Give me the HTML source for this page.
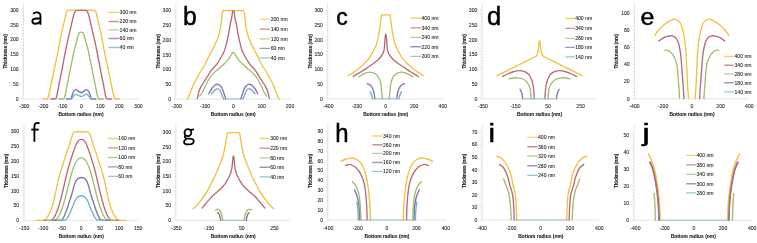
<!DOCTYPE html>
<html><head><meta charset="utf-8"><style>
html,body{margin:0;padding:0;background:#fff;}
text{font-family:"Liberation Sans",sans-serif;}
svg{display:block;filter:blur(0.55px);}
.ax{stroke:#dcdcdc;stroke-width:0.75;}
.tk{stroke:#d0d0d0;stroke-width:0.6;fill:none;}
.lgl{stroke-width:1.05;opacity:0.75;}
.tl{font-size:5.1px;fill:#222;stroke:#222;stroke-width:0.08px;}
.tt{font-size:4.8px;font-weight:bold;fill:#1a1a1a;stroke:#1a1a1a;stroke-width:0.12px;}
.tt2{font-size:4.95px;font-weight:bold;fill:#1a1a1a;stroke:#1a1a1a;stroke-width:0.1px;}
.let{fill:#000;stroke:#000;stroke-width:0.5px;}
.cv{fill:none;stroke-width:1.35;stroke-linejoin:round;stroke-linecap:round;}
</style></head><body>
<svg width="757" height="243" viewBox="0 0 757 243" font-family="Liberation Sans, sans-serif">
<line x1="23.5" y1="3" x2="23.5" y2="99" class="ax"/>
<line x1="23.5" y1="99" x2="138.5" y2="99" class="ax"/>
<path d="M21.3,99h2.2M22.1,96.03h1.4M22.1,93.05h1.4M22.1,90.08h1.4M22.1,87.11h1.4M21.3,84.13h2.2M22.1,81.16h1.4M22.1,78.19h1.4M22.1,75.21h1.4M22.1,72.24h1.4M21.3,69.27h2.2M22.1,66.29h1.4M22.1,63.32h1.4M22.1,60.35h1.4M22.1,57.37h1.4M21.3,54.4h2.2M22.1,51.43h1.4M22.1,48.45h1.4M22.1,45.48h1.4M22.1,42.51h1.4M21.3,39.53h2.2M22.1,36.56h1.4M22.1,33.59h1.4M22.1,30.61h1.4M22.1,27.64h1.4M21.3,24.67h2.2M22.1,21.69h1.4M22.1,18.72h1.4M22.1,15.75h1.4M22.1,12.77h1.4M21.3,9.8h2.2" class="tk"/>
<text x="18.7" y="100.83" class="tl" text-anchor="end">0</text>
<text x="18.7" y="85.96" class="tl" text-anchor="end">50</text>
<text x="18.7" y="71.1" class="tl" text-anchor="end">100</text>
<text x="18.7" y="56.23" class="tl" text-anchor="end">150</text>
<text x="18.7" y="41.36" class="tl" text-anchor="end">200</text>
<text x="18.7" y="26.5" class="tl" text-anchor="end">250</text>
<text x="18.7" y="11.63" class="tl" text-anchor="end">300</text>
<text x="24.3" y="108" class="tl" text-anchor="middle">-300</text>
<text x="43.3" y="108" class="tl" text-anchor="middle">-200</text>
<text x="62.3" y="108" class="tl" text-anchor="middle">-100</text>
<text x="81.3" y="108" class="tl" text-anchor="middle">0</text>
<text x="100.3" y="108" class="tl" text-anchor="middle">100</text>
<text x="119.3" y="108" class="tl" text-anchor="middle">200</text>
<text x="138.3" y="108" class="tl" text-anchor="middle">300</text>
<text transform="translate(7.4,51.4) rotate(-90)" class="tt" text-anchor="middle" textLength="34.2" lengthAdjust="spacingAndGlyphs">Thickness (nm)</text>
<text x="81" y="116" class="tt2" text-anchor="middle" textLength="45.1" lengthAdjust="spacingAndGlyphs">Bottom radius (nm)</text>
<g fill="none" stroke="#000" stroke-width="1.9"><path d="M33.1,13.7 C34.2,12.75 35.6,12.35 36.8,12.35 C39.3,12.35 40.45,13.6 40.45,16 L40.45,24.7"/><path d="M40.45,18.5 L36.6,18.5 C33.8,18.5 32.35,19.8 32.35,21.3 C32.35,22.9 33.5,23.75 35.2,23.75 C37.3,23.75 39.2,22.8 40.45,21.5"/></g>
<line x1="109" y1="12.4" x2="118.5" y2="12.4" stroke="#EEC43E" class="cv lgl"/>
<text x="119.6" y="14.3" class="tl">300 nm</text>
<line x1="109" y1="21.5" x2="118.5" y2="21.5" stroke="#B86A78" class="cv lgl"/>
<text x="119.6" y="23.4" class="tl">220 nm</text>
<line x1="109" y1="29.9" x2="118.5" y2="29.9" stroke="#A2BC72" class="cv lgl"/>
<text x="119.6" y="31.8" class="tl">140 nm</text>
<line x1="109" y1="38.5" x2="118.5" y2="38.5" stroke="#8672A8" class="cv lgl"/>
<text x="119.6" y="40.4" class="tl">60 nm</text>
<line x1="109" y1="47.5" x2="118.5" y2="47.5" stroke="#6CB4CA" class="cv lgl"/>
<text x="119.6" y="49.4" class="tl">40 nm</text>
<path d="M43.2,99 C43.78,99 46.12,99 46.7,99 C46.87,98.93 47.4,99.1 47.7,98.6 C48,98.1 48.13,97.43 48.5,96 C48.87,94.57 49.28,92.83 49.9,90 C50.52,87.17 51.4,82.83 52.2,79 C53,75.17 53.85,71 54.7,67 C55.55,63 56.45,59.17 57.3,55 C58.15,50.83 58.97,46.22 59.8,42 C60.63,37.78 61.4,33.82 62.3,29.7 C63.2,25.58 64.52,20.25 65.2,17.3 C65.88,14.35 66.03,13.12 66.4,12 C66.77,10.88 66.98,10.9 67.4,10.6 C67.82,10.3 66.6,10.27 68.9,10.2 C71.2,10.13 77.1,10.2 81.2,10.2 C85.3,10.2 91.2,10.13 93.5,10.2 C95.8,10.27 94.58,10.3 95,10.6 C95.42,10.9 95.63,10.88 96,12 C96.37,13.12 96.52,14.35 97.2,17.3 C97.88,20.25 99.2,25.58 100.1,29.7 C101,33.82 101.77,37.78 102.6,42 C103.43,46.22 104.25,50.83 105.1,55 C105.95,59.17 106.85,63 107.7,67 C108.55,71 109.4,75.17 110.2,79 C111,82.83 111.88,87.17 112.5,90 C113.12,92.83 113.53,94.57 113.9,96 C114.27,97.43 114.4,98.1 114.7,98.6 C115,99.1 115.53,98.93 115.7,99 C116.28,99 118.62,99 119.2,99" stroke="#EEC43E" class="cv"/>
<path d="M51,99 C51.67,99 54.33,99 55,99 C55.18,98.87 55.77,98.87 56.1,98.2 C56.43,97.53 56.5,97.37 57,95 C57.5,92.63 58.22,88.5 59.1,84 C59.98,79.5 61.2,73.67 62.3,68 C63.4,62.33 64.58,55.5 65.7,50 C66.82,44.5 68.05,39.22 69,35 C69.95,30.78 70.72,27.62 71.4,24.7 C72.08,21.78 72.57,19.53 73.1,17.5 C73.63,15.47 74.2,13.58 74.6,12.5 C75,11.42 75.13,11.35 75.5,11 C75.87,10.65 75.85,10.5 76.8,10.4 C77.75,10.3 79.73,10.4 81.2,10.4 C82.67,10.4 84.65,10.3 85.6,10.4 C86.55,10.5 86.53,10.65 86.9,11 C87.27,11.35 87.4,11.42 87.8,12.5 C88.2,13.58 88.77,15.47 89.3,17.5 C89.83,19.53 90.32,21.78 91,24.7 C91.68,27.62 92.45,30.78 93.4,35 C94.35,39.22 95.58,44.5 96.7,50 C97.82,55.5 99,62.33 100.1,68 C101.2,73.67 102.42,79.5 103.3,84 C104.18,88.5 104.9,92.63 105.4,95 C105.9,97.37 105.97,97.53 106.3,98.2 C106.63,98.87 107.22,98.87 107.4,99 C108.07,99 110.73,99 111.4,99" stroke="#B86A78" class="cv"/>
<path d="M59,99 C59.67,99 62.33,99 63,99 C63.17,98.93 63.7,99.02 64,98.6 C64.3,98.18 64.43,97.93 64.8,96.5 C65.17,95.07 65.63,92.75 66.2,90 C66.77,87.25 67.53,83.33 68.2,80 C68.87,76.67 69.53,73.33 70.2,70 C70.87,66.67 71.52,63.33 72.2,60 C72.88,56.67 73.7,52.58 74.3,50 C74.9,47.42 75.37,46.08 75.8,44.5 C76.23,42.92 76.58,41.75 76.9,40.5 C77.22,39.25 77.43,38 77.7,37 C77.97,36 78.17,35.23 78.5,34.5 C78.83,33.77 79.25,33 79.7,32.6 C80.15,32.2 80.7,32.1 81.2,32.1 C81.7,32.1 82.25,32.2 82.7,32.6 C83.15,33 83.57,33.77 83.9,34.5 C84.23,35.23 84.43,36 84.7,37 C84.97,38 85.18,39.25 85.5,40.5 C85.82,41.75 86.17,42.92 86.6,44.5 C87.03,46.08 87.5,47.42 88.1,50 C88.7,52.58 89.52,56.67 90.2,60 C90.88,63.33 91.53,66.67 92.2,70 C92.87,73.33 93.53,76.67 94.2,80 C94.87,83.33 95.63,87.25 96.2,90 C96.77,92.75 97.23,95.07 97.6,96.5 C97.97,97.93 98.1,98.18 98.4,98.6 C98.7,99.02 99.23,98.93 99.4,99 C100.07,99 102.73,99 103.4,99" stroke="#A2BC72" class="cv"/>
<path d="M66.6,99 C67.27,99 69.93,99 70.6,99 C70.73,98.8 71.1,98.55 71.4,97.8 C71.7,97.05 71.97,95.6 72.4,94.5 C72.83,93.4 73.4,92 74,91.2 C74.6,90.4 75.22,89.68 76,89.7 C76.78,89.72 77.83,90.8 78.7,91.3 C79.57,91.8 80.37,92.7 81.2,92.7 C82.03,92.7 82.83,91.8 83.7,91.3 C84.57,90.8 85.62,89.72 86.4,89.7 C87.18,89.68 87.8,90.4 88.4,91.2 C89,92 89.57,93.4 90,94.5 C90.43,95.6 90.7,97.05 91,97.8 C91.3,98.55 91.67,98.8 91.8,99 C92.47,99 95.13,99 95.8,99" stroke="#8672A8" class="cv"/>
<path d="M67.2,99 C67.87,99 70.53,99 71.2,99 C71.32,98.95 71.62,99 71.9,98.7 C72.18,98.4 72.48,97.78 72.9,97.2 C73.32,96.62 73.85,95.68 74.4,95.2 C74.95,94.72 75.48,94.25 76.2,94.3 C76.92,94.35 77.87,95.12 78.7,95.5 C79.53,95.88 80.37,96.6 81.2,96.6 C82.03,96.6 82.87,95.88 83.7,95.5 C84.53,95.12 85.48,94.35 86.2,94.3 C86.92,94.25 87.45,94.72 88,95.2 C88.55,95.68 89.08,96.62 89.5,97.2 C89.92,97.78 90.22,98.4 90.5,98.7 C90.78,99 91.08,98.95 91.2,99 C91.87,99 94.53,99 95.2,99" stroke="#6CB4CA" class="cv"/>
<line x1="175.9" y1="3" x2="175.9" y2="99" class="ax"/>
<line x1="175.9" y1="99" x2="290.5" y2="99" class="ax"/>
<path d="M173.7,99h2.2M174.5,96.05h1.4M174.5,93.09h1.4M174.5,90.14h1.4M174.5,87.19h1.4M173.7,84.23h2.2M174.5,81.28h1.4M174.5,78.33h1.4M174.5,75.37h1.4M174.5,72.42h1.4M173.7,69.47h2.2M174.5,66.51h1.4M174.5,63.56h1.4M174.5,60.61h1.4M174.5,57.65h1.4M173.7,54.7h2.2M174.5,51.75h1.4M174.5,48.79h1.4M174.5,45.84h1.4M174.5,42.89h1.4M173.7,39.93h2.2M174.5,36.98h1.4M174.5,34.03h1.4M174.5,31.07h1.4M174.5,28.12h1.4M173.7,25.17h2.2M174.5,22.21h1.4M174.5,19.26h1.4M174.5,16.31h1.4M174.5,13.35h1.4M173.7,10.4h2.2" class="tk"/>
<text x="171.1" y="100.83" class="tl" text-anchor="end">0</text>
<text x="171.1" y="86.06" class="tl" text-anchor="end">50</text>
<text x="171.1" y="71.3" class="tl" text-anchor="end">100</text>
<text x="171.1" y="56.53" class="tl" text-anchor="end">150</text>
<text x="171.1" y="41.76" class="tl" text-anchor="end">200</text>
<text x="171.1" y="27" class="tl" text-anchor="end">250</text>
<text x="171.1" y="12.23" class="tl" text-anchor="end">300</text>
<text x="176.8" y="108" class="tl" text-anchor="middle">-200</text>
<text x="205.1" y="108" class="tl" text-anchor="middle">-100</text>
<text x="233.4" y="108" class="tl" text-anchor="middle">0</text>
<text x="261.7" y="108" class="tl" text-anchor="middle">100</text>
<text x="290" y="108" class="tl" text-anchor="middle">200</text>
<text transform="translate(159.8,51.4) rotate(-90)" class="tt" text-anchor="middle" textLength="34.2" lengthAdjust="spacingAndGlyphs">Thickness (nm)</text>
<text x="233.2" y="116" class="tt2" text-anchor="middle" textLength="45.1" lengthAdjust="spacingAndGlyphs">Bottom radius (nm)</text>
<text transform="translate(182.99,24.74) scale(0.961,1)" font-size="25.71" class="let">b</text>
<line x1="260.1" y1="19.3" x2="269.5" y2="19.3" stroke="#EEC43E" class="cv lgl"/>
<text x="270.7" y="21.2" class="tl">200 nm</text>
<line x1="260.1" y1="29.1" x2="269.5" y2="29.1" stroke="#B86A78" class="cv lgl"/>
<text x="270.7" y="31" class="tl">140 nm</text>
<line x1="260.1" y1="38.8" x2="269.5" y2="38.8" stroke="#A2BC72" class="cv lgl"/>
<text x="270.7" y="40.7" class="tl">120 nm</text>
<line x1="260.1" y1="48.4" x2="269.5" y2="48.4" stroke="#8672A8" class="cv lgl"/>
<text x="270.7" y="50.3" class="tl">60 nm</text>
<line x1="260.1" y1="57.8" x2="269.5" y2="57.8" stroke="#6CB4CA" class="cv lgl"/>
<text x="270.7" y="59.7" class="tl">40 nm</text>
<path d="M187.3,99 C187.47,98.87 187.97,98.78 188.3,98.2 C188.63,97.62 188.8,96.87 189.3,95.5 C189.8,94.13 190.55,91.92 191.3,90 C192.05,88.08 192.8,86.08 193.8,84 C194.8,81.92 196.22,79.5 197.3,77.5 C198.38,75.5 199.05,74.13 200.3,72 C201.55,69.87 203.35,67.37 204.8,64.7 C206.25,62.03 207.75,58.45 209,56 C210.25,53.55 211.27,51.98 212.3,50 C213.33,48.02 214.22,46.27 215.2,44.1 C216.18,41.93 217.35,39.57 218.2,37 C219.05,34.43 219.77,31.45 220.3,28.7 C220.83,25.95 221.07,23.12 221.4,20.5 C221.73,17.88 222.05,14.5 222.3,13 C222.55,11.5 222.6,11.88 222.9,11.5 C223.2,11.12 222.37,10.83 224.1,10.7 C225.83,10.57 230.23,10.7 233.3,10.7 C236.37,10.7 240.77,10.57 242.5,10.7 C244.23,10.83 243.4,11.12 243.7,11.5 C244,11.88 244.05,11.5 244.3,13 C244.55,14.5 244.87,17.88 245.2,20.5 C245.53,23.12 245.77,25.95 246.3,28.7 C246.83,31.45 247.55,34.43 248.4,37 C249.25,39.57 250.42,41.93 251.4,44.1 C252.38,46.27 253.27,48.02 254.3,50 C255.33,51.98 256.35,53.55 257.6,56 C258.85,58.45 260.35,62.03 261.8,64.7 C263.25,67.37 265.05,69.87 266.3,72 C267.55,74.13 268.22,75.5 269.3,77.5 C270.38,79.5 271.8,81.92 272.8,84 C273.8,86.08 274.55,88.08 275.3,90 C276.05,91.92 276.8,94.13 277.3,95.5 C277.8,96.87 277.97,97.62 278.3,98.2 C278.63,98.78 279.13,98.87 279.3,99" stroke="#EEC43E" class="cv"/>
<path d="M197.1,98.5 C197.2,98.22 197.42,97.88 197.7,96.8 C197.98,95.72 198.27,93.65 198.8,92 C199.33,90.35 200.15,88.4 200.9,86.9 C201.65,85.4 202.27,84.65 203.3,83 C204.33,81.35 205.77,79.12 207.1,77 C208.43,74.88 209.77,72.35 211.3,70.3 C212.83,68.25 215.1,66.15 216.3,64.7 C217.5,63.25 217.2,63.8 218.5,61.6 C219.8,59.4 222.63,55.1 224.1,51.5 C225.57,47.9 226.52,43.1 227.3,40 C228.08,36.9 228.32,35.47 228.8,32.9 C229.28,30.33 229.68,27.35 230.2,24.6 C230.72,21.85 231.52,18.5 231.9,16.4 C232.28,14.3 232.27,12.95 232.5,12 C232.73,11.05 233.03,10.7 233.3,10.7 C233.57,10.7 233.87,11.05 234.1,12 C234.33,12.95 234.32,14.3 234.7,16.4 C235.08,18.5 235.88,21.85 236.4,24.6 C236.92,27.35 237.32,30.33 237.8,32.9 C238.28,35.47 238.52,36.9 239.3,40 C240.08,43.1 241.03,47.9 242.5,51.5 C243.97,55.1 246.8,59.4 248.1,61.6 C249.4,63.8 249.1,63.25 250.3,64.7 C251.5,66.15 253.77,68.25 255.3,70.3 C256.83,72.35 258.17,74.88 259.5,77 C260.83,79.12 262.27,81.35 263.3,83 C264.33,84.65 264.95,85.4 265.7,86.9 C266.45,88.4 267.27,90.35 267.8,92 C268.33,93.65 268.62,95.72 268.9,96.8 C269.18,97.88 269.4,98.22 269.5,98.5" stroke="#B86A78" class="cv"/>
<path d="M199.8,96 C200.13,95.58 201.13,94.58 201.8,93.5 C202.47,92.42 203.05,91.08 203.8,89.5 C204.55,87.92 205.38,85.83 206.3,84 C207.22,82.17 208.22,80.18 209.3,78.5 C210.38,76.82 211.25,75.5 212.8,73.9 C214.35,72.3 216.68,70.58 218.6,68.9 C220.52,67.22 222.62,65.48 224.3,63.8 C225.98,62.12 227.5,60.37 228.7,58.8 C229.9,57.23 230.73,55.48 231.5,54.4 C232.27,53.32 232.7,52.3 233.3,52.3 C233.9,52.3 234.33,53.32 235.1,54.4 C235.87,55.48 236.7,57.23 237.9,58.8 C239.1,60.37 240.62,62.12 242.3,63.8 C243.98,65.48 246.08,67.22 248,68.9 C249.92,70.58 252.25,72.3 253.8,73.9 C255.35,75.5 256.22,76.82 257.3,78.5 C258.38,80.18 259.38,82.17 260.3,84 C261.22,85.83 262.05,87.92 262.8,89.5 C263.55,91.08 264.13,92.42 264.8,93.5 C265.47,94.58 266.47,95.58 266.8,96" stroke="#A2BC72" class="cv"/>
<path d="M226.05,99 C225.84,98.5 225.34,97.5 224.8,96 C224.26,94.5 223.47,91.63 222.8,90 C222.13,88.37 221.63,87.15 220.8,86.2 C219.97,85.25 218.8,84.47 217.8,84.3 C216.8,84.13 215.8,84.5 214.8,85.2 C213.8,85.9 212.8,87.07 211.8,88.5 C210.8,89.93 209.3,92.92 208.8,93.8" stroke="#8672A8" class="cv"/>
<path d="M240.55,99 C240.76,98.5 241.26,97.5 241.8,96 C242.34,94.5 243.13,91.63 243.8,90 C244.47,88.37 244.97,87.15 245.8,86.2 C246.63,85.25 247.8,84.47 248.8,84.3 C249.8,84.13 250.8,84.5 251.8,85.2 C252.8,85.9 253.8,87.07 254.8,88.5 C255.8,89.93 257.3,92.92 257.8,93.8" stroke="#8672A8" class="cv"/>
<path d="M223.8,99 C223.58,98.58 223,97.67 222.5,96.5 C222,95.33 221.33,93.15 220.8,92 C220.27,90.85 219.78,90.13 219.3,89.6 C218.82,89.07 218.48,88.83 217.9,88.8 C217.32,88.77 216.53,88.95 215.8,89.4 C215.07,89.85 214.2,90.77 213.5,91.5 C212.8,92.23 211.92,93.42 211.6,93.8" stroke="#6CB4CA" class="cv"/>
<path d="M242.8,99 C243.02,98.58 243.6,97.67 244.1,96.5 C244.6,95.33 245.27,93.15 245.8,92 C246.33,90.85 246.82,90.13 247.3,89.6 C247.78,89.07 248.12,88.83 248.7,88.8 C249.28,88.77 250.07,88.95 250.8,89.4 C251.53,89.85 252.4,90.77 253.1,91.5 C253.8,92.23 254.68,93.42 255,93.8" stroke="#6CB4CA" class="cv"/>
<line x1="223.8" y1="99" x2="242.8" y2="99" stroke="#8DBAC6" stroke-width="0.95" fill="none"/>
<line x1="327.7" y1="3" x2="327.7" y2="98.8" class="ax"/>
<line x1="327.7" y1="98.8" x2="443.7" y2="98.8" class="ax"/>
<path d="M325.5,98.8h2.2M326.3,95.85h1.4M326.3,92.91h1.4M326.3,89.96h1.4M326.3,87.01h1.4M325.5,84.07h2.2M326.3,81.12h1.4M326.3,78.17h1.4M326.3,75.23h1.4M326.3,72.28h1.4M325.5,69.33h2.2M326.3,66.39h1.4M326.3,63.44h1.4M326.3,60.49h1.4M326.3,57.55h1.4M325.5,54.6h2.2M326.3,51.65h1.4M326.3,48.71h1.4M326.3,45.76h1.4M326.3,42.81h1.4M325.5,39.87h2.2M326.3,36.92h1.4M326.3,33.97h1.4M326.3,31.03h1.4M326.3,28.08h1.4M325.5,25.13h2.2M326.3,22.19h1.4M326.3,19.24h1.4M326.3,16.29h1.4M326.3,13.35h1.4M325.5,10.4h2.2" class="tk"/>
<text x="322.9" y="100.63" class="tl" text-anchor="end">0</text>
<text x="322.9" y="85.9" class="tl" text-anchor="end">50</text>
<text x="322.9" y="71.16" class="tl" text-anchor="end">100</text>
<text x="322.9" y="56.43" class="tl" text-anchor="end">150</text>
<text x="322.9" y="41.7" class="tl" text-anchor="end">200</text>
<text x="322.9" y="26.96" class="tl" text-anchor="end">250</text>
<text x="322.9" y="12.23" class="tl" text-anchor="end">300</text>
<text x="328.4" y="108" class="tl" text-anchor="middle">-400</text>
<text x="357" y="108" class="tl" text-anchor="middle">-200</text>
<text x="385.6" y="108" class="tl" text-anchor="middle">0</text>
<text x="414.2" y="108" class="tl" text-anchor="middle">200</text>
<text x="442.8" y="108" class="tl" text-anchor="middle">400</text>
<text transform="translate(311.6,51.4) rotate(-90)" class="tt" text-anchor="middle" textLength="34.2" lengthAdjust="spacingAndGlyphs">Thickness (nm)</text>
<text x="385.7" y="116" class="tt2" text-anchor="middle" textLength="45.1" lengthAdjust="spacingAndGlyphs">Bottom radius (nm)</text>
<text transform="translate(336.34,24.86) scale(0.974,1)" font-size="23.54" class="let">c</text>
<line x1="410.9" y1="18" x2="420.7" y2="18" stroke="#EEC43E" class="cv lgl"/>
<text x="421.5" y="19.9" class="tl">400 nm</text>
<line x1="410.9" y1="27.9" x2="420.7" y2="27.9" stroke="#B86A78" class="cv lgl"/>
<text x="421.5" y="29.8" class="tl">340 nm</text>
<line x1="410.9" y1="37.3" x2="420.7" y2="37.3" stroke="#A2BC72" class="cv lgl"/>
<text x="421.5" y="39.2" class="tl">240 nm</text>
<line x1="410.9" y1="46.7" x2="420.7" y2="46.7" stroke="#8672A8" class="cv lgl"/>
<text x="421.5" y="48.6" class="tl">220 nm</text>
<line x1="410.9" y1="56.3" x2="420.7" y2="56.3" stroke="#6CB4CA" class="cv lgl"/>
<text x="421.5" y="58.2" class="tl">200 nm</text>
<path d="M348.3,75.6 C348.97,75.18 350.97,73.95 352.3,73.1 C353.63,72.25 354.93,71.52 356.3,70.5 C357.67,69.48 359.08,68.25 360.5,67 C361.92,65.75 363.42,64.38 364.8,63 C366.18,61.62 367.63,60.2 368.8,58.7 C369.97,57.2 370.88,55.62 371.8,54 C372.72,52.38 373.55,50.5 374.3,49 C375.05,47.5 375.68,46.83 376.3,45 C376.92,43.17 377.45,40.55 378,38 C378.55,35.45 379.15,32.45 379.6,29.7 C380.05,26.95 380.4,23.82 380.7,21.5 C381,19.18 381.13,16.9 381.4,15.8 C381.67,14.7 381.57,15.05 382.3,14.9 C383.03,14.75 384.63,14.9 385.8,14.9 C386.97,14.9 388.57,14.75 389.3,14.9 C390.03,15.05 389.93,14.7 390.2,15.8 C390.47,16.9 390.6,19.18 390.9,21.5 C391.2,23.82 391.55,26.95 392,29.7 C392.45,32.45 393.05,35.45 393.6,38 C394.15,40.55 394.68,43.17 395.3,45 C395.92,46.83 396.55,47.5 397.3,49 C398.05,50.5 398.88,52.38 399.8,54 C400.72,55.62 401.63,57.2 402.8,58.7 C403.97,60.2 405.42,61.62 406.8,63 C408.18,64.38 409.68,65.75 411.1,67 C412.52,68.25 413.93,69.48 415.3,70.5 C416.67,71.52 417.97,72.25 419.3,73.1 C420.63,73.95 422.63,75.18 423.3,75.6" stroke="#EEC43E" class="cv"/>
<path d="M353.4,76.7 C353.58,76.52 353.27,76.38 354.5,75.6 C355.73,74.82 358.75,73.27 360.8,72 C362.85,70.73 364.8,69.33 366.8,68 C368.8,66.67 371.08,65.2 372.8,64 C374.52,62.8 375.93,61.8 377.1,60.8 C378.27,59.8 378.95,59.03 379.8,58 C380.65,56.97 381.58,55.6 382.2,54.6 C382.82,53.6 383.15,53.02 383.5,52 C383.85,50.98 384.08,50.17 384.3,48.5 C384.52,46.83 384.63,44.08 384.8,42 C384.97,39.92 385.13,37.35 385.3,36 C385.47,34.65 385.63,33.9 385.8,33.9 C385.97,33.9 386.13,34.65 386.3,36 C386.47,37.35 386.63,39.92 386.8,42 C386.97,44.08 387.08,46.83 387.3,48.5 C387.52,50.17 387.75,50.98 388.1,52 C388.45,53.02 388.78,53.6 389.4,54.6 C390.02,55.6 390.95,56.97 391.8,58 C392.65,59.03 393.33,59.8 394.5,60.8 C395.67,61.8 397.08,62.8 398.8,64 C400.52,65.2 402.8,66.67 404.8,68 C406.8,69.33 408.75,70.73 410.8,72 C412.85,73.27 415.87,74.82 417.1,75.6 C418.33,76.38 418.02,76.52 418.2,76.7" stroke="#B86A78" class="cv"/>
<path d="M382.7,98.8 C382.63,98.5 382.48,98.3 382.3,97 C382.12,95.7 381.83,93.17 381.6,91 C381.37,88.83 381.23,85.92 380.9,84 C380.57,82.08 380.18,80.9 379.6,79.5 C379.02,78.1 378.2,76.63 377.4,75.6 C376.6,74.57 375.97,73.88 374.8,73.3 C373.63,72.72 371.82,72.18 370.4,72.1 C368.98,72.02 367.65,72.38 366.3,72.8 C364.95,73.22 363.55,73.9 362.3,74.6 C361.05,75.3 359.38,76.6 358.8,77" stroke="#A2BC72" class="cv"/>
<path d="M388.9,98.8 C388.97,98.5 389.12,98.3 389.3,97 C389.48,95.7 389.77,93.17 390,91 C390.23,88.83 390.37,85.92 390.7,84 C391.03,82.08 391.42,80.9 392,79.5 C392.58,78.1 393.4,76.63 394.2,75.6 C395,74.57 395.63,73.88 396.8,73.3 C397.97,72.72 399.78,72.18 401.2,72.1 C402.62,72.02 403.95,72.38 405.3,72.8 C406.65,73.22 408.05,73.9 409.3,74.6 C410.55,75.3 412.22,76.6 412.8,77" stroke="#A2BC72" class="cv"/>
<path d="M374.9,98.8 C374.87,98.58 374.82,98.3 374.7,97.5 C374.58,96.7 374.4,95.08 374.2,94 C374,92.92 373.82,92 373.5,91 C373.18,90 372.75,88.9 372.3,88 C371.85,87.1 371.35,86.22 370.8,85.6 C370.25,84.98 369.62,84.62 369,84.3 C368.38,83.98 367.42,83.8 367.1,83.7" stroke="#8672A8" class="cv"/>
<path d="M396.7,98.8 C396.73,98.58 396.78,98.3 396.9,97.5 C397.02,96.7 397.2,95.08 397.4,94 C397.6,92.92 397.78,92 398.1,91 C398.42,90 398.85,88.9 399.3,88 C399.75,87.1 400.25,86.22 400.8,85.6 C401.35,84.98 401.98,84.62 402.6,84.3 C403.22,83.98 404.18,83.8 404.5,83.7" stroke="#8672A8" class="cv"/>
<path d="M372.5,98.8 C372.45,98.5 372.38,97.72 372.2,97 C372.02,96.28 371.73,95.38 371.4,94.5 C371.07,93.62 370.4,92.17 370.2,91.7" stroke="#6CB4CA" class="cv"/>
<path d="M399.1,98.8 C399.15,98.5 399.22,97.72 399.4,97 C399.58,96.28 399.87,95.38 400.2,94.5 C400.53,93.62 401.2,92.17 401.4,91.7" stroke="#6CB4CA" class="cv"/>
<line x1="372.5" y1="98.8" x2="399.1" y2="98.8" stroke="#8DBAC6" stroke-width="0.95" fill="none"/>
<line x1="482.1" y1="3" x2="482.1" y2="98.8" class="ax"/>
<line x1="482.1" y1="98.8" x2="597" y2="98.8" class="ax"/>
<path d="M479.9,98.8h2.2M480.7,95.85h1.4M480.7,92.91h1.4M480.7,89.96h1.4M480.7,87.01h1.4M479.9,84.07h2.2M480.7,81.12h1.4M480.7,78.17h1.4M480.7,75.23h1.4M480.7,72.28h1.4M479.9,69.33h2.2M480.7,66.39h1.4M480.7,63.44h1.4M480.7,60.49h1.4M480.7,57.55h1.4M479.9,54.6h2.2M480.7,51.65h1.4M480.7,48.71h1.4M480.7,45.76h1.4M480.7,42.81h1.4M479.9,39.87h2.2M480.7,36.92h1.4M480.7,33.97h1.4M480.7,31.03h1.4M480.7,28.08h1.4M479.9,25.13h2.2M480.7,22.19h1.4M480.7,19.24h1.4M480.7,16.29h1.4M480.7,13.35h1.4M479.9,10.4h2.2" class="tk"/>
<text x="477.3" y="100.63" class="tl" text-anchor="end">0</text>
<text x="477.3" y="85.9" class="tl" text-anchor="end">50</text>
<text x="477.3" y="71.16" class="tl" text-anchor="end">100</text>
<text x="477.3" y="56.43" class="tl" text-anchor="end">150</text>
<text x="477.3" y="41.7" class="tl" text-anchor="end">200</text>
<text x="477.3" y="26.96" class="tl" text-anchor="end">250</text>
<text x="477.3" y="12.23" class="tl" text-anchor="end">300</text>
<text x="482.8" y="108" class="tl" text-anchor="middle">-350</text>
<text x="515.4" y="108" class="tl" text-anchor="middle">-150</text>
<text x="548" y="108" class="tl" text-anchor="middle">50</text>
<text x="580.6" y="108" class="tl" text-anchor="middle">250</text>
<text transform="translate(466,51.4) rotate(-90)" class="tt" text-anchor="middle" textLength="34.2" lengthAdjust="spacingAndGlyphs">Thickness (nm)</text>
<text x="539.55" y="116" class="tt2" text-anchor="middle" textLength="45.1" lengthAdjust="spacingAndGlyphs">Bottom radius (nm)</text>
<text transform="translate(487.03,24.74) scale(0.994,1)" font-size="25.71" class="let">d</text>
<line x1="565.8" y1="18.5" x2="574.4" y2="18.5" stroke="#EEC43E" class="cv lgl"/>
<text x="575.2" y="20.4" class="tl">400 nm</text>
<line x1="565.8" y1="28.4" x2="574.4" y2="28.4" stroke="#B86A78" class="cv lgl"/>
<text x="575.2" y="30.3" class="tl">340 nm</text>
<line x1="565.8" y1="38.3" x2="574.4" y2="38.3" stroke="#A2BC72" class="cv lgl"/>
<text x="575.2" y="40.2" class="tl">280 nm</text>
<line x1="565.8" y1="47.4" x2="574.4" y2="47.4" stroke="#8672A8" class="cv lgl"/>
<text x="575.2" y="49.3" class="tl">180 nm</text>
<line x1="565.8" y1="56.8" x2="574.4" y2="56.8" stroke="#6CB4CA" class="cv lgl"/>
<text x="575.2" y="58.7" class="tl">140 nm</text>
<path d="M497.1,75.7 C498.35,75.05 502.02,73.12 504.6,71.8 C507.18,70.48 510.1,69.03 512.6,67.8 C515.1,66.57 517.35,65.5 519.6,64.4 C521.85,63.3 523.93,62.27 526.1,61.2 C528.27,60.13 531.1,58.73 532.6,58 C534.1,57.27 534.4,57.27 535.1,56.8 C535.8,56.33 536.32,56 536.8,55.2 C537.28,54.4 537.7,53.28 538,52 C538.3,50.72 538.42,49.08 538.6,47.5 C538.78,45.92 538.93,43.63 539.1,42.5 C539.27,41.37 539.43,40.7 539.6,40.7 C539.77,40.7 539.93,41.37 540.1,42.5 C540.27,43.63 540.42,45.92 540.6,47.5 C540.78,49.08 540.9,50.72 541.2,52 C541.5,53.28 541.92,54.4 542.4,55.2 C542.88,56 543.4,56.33 544.1,56.8 C544.8,57.27 545.1,57.27 546.6,58 C548.1,58.73 550.93,60.13 553.1,61.2 C555.27,62.27 557.35,63.3 559.6,64.4 C561.85,65.5 564.1,66.57 566.6,67.8 C569.1,69.03 572.02,70.48 574.6,71.8 C577.18,73.12 580.85,75.05 582.1,75.7" stroke="#EEC43E" class="cv"/>
<path d="M534.3,98.8 C534.27,98.33 534.18,97.3 534.1,96 C534.02,94.7 533.95,92.67 533.8,91 C533.65,89.33 533.47,87.58 533.2,86 C532.93,84.42 532.63,82.92 532.2,81.5 C531.77,80.08 531.2,78.7 530.6,77.5 C530,76.3 529.35,75.17 528.6,74.3 C527.85,73.43 527.02,72.83 526.1,72.3 C525.18,71.77 524.07,71.38 523.1,71.1 C522.13,70.82 521.38,70.63 520.3,70.6 C519.22,70.57 517.88,70.67 516.6,70.9 C515.32,71.13 514.1,71.48 512.6,72 C511.1,72.52 509.3,73.25 507.6,74 C505.9,74.75 503.27,76.08 502.4,76.5" stroke="#B86A78" class="cv"/>
<path d="M544.9,98.8 C544.93,98.33 545.02,97.3 545.1,96 C545.18,94.7 545.25,92.67 545.4,91 C545.55,89.33 545.73,87.58 546,86 C546.27,84.42 546.57,82.92 547,81.5 C547.43,80.08 548,78.7 548.6,77.5 C549.2,76.3 549.85,75.17 550.6,74.3 C551.35,73.43 552.18,72.83 553.1,72.3 C554.02,71.77 555.13,71.38 556.1,71.1 C557.07,70.82 557.82,70.63 558.9,70.6 C559.98,70.57 561.32,70.67 562.6,70.9 C563.88,71.13 565.1,71.48 566.6,72 C568.1,72.52 569.9,73.25 571.6,74 C573.3,74.75 575.93,76.08 576.8,76.5" stroke="#B86A78" class="cv"/>
<path d="M531.2,98.8 C531.17,98.33 531.12,97.3 531,96 C530.88,94.7 530.73,92.5 530.5,91 C530.27,89.5 529.95,88.1 529.6,87 C529.25,85.9 528.9,85.23 528.4,84.4 C527.9,83.57 527.32,82.77 526.6,82 C525.88,81.23 525.02,80.4 524.1,79.8 C523.18,79.2 522.27,78.73 521.1,78.4 C519.93,78.07 518.43,77.87 517.1,77.8 C515.77,77.73 514.45,77.83 513.1,78 C511.75,78.17 509.68,78.67 509,78.8" stroke="#A2BC72" class="cv"/>
<path d="M548,98.8 C548.03,98.33 548.08,97.3 548.2,96 C548.32,94.7 548.47,92.5 548.7,91 C548.93,89.5 549.25,88.1 549.6,87 C549.95,85.9 550.3,85.23 550.8,84.4 C551.3,83.57 551.88,82.77 552.6,82 C553.32,81.23 554.18,80.4 555.1,79.8 C556.02,79.2 556.93,78.73 558.1,78.4 C559.27,78.07 560.77,77.87 562.1,77.8 C563.43,77.73 564.75,77.83 566.1,78 C567.45,78.17 569.52,78.67 570.2,78.8" stroke="#A2BC72" class="cv"/>
<path d="M522.7,98.8 C522.67,98.5 522.62,97.8 522.5,97 C522.38,96.2 522.22,94.92 522,94 C521.78,93.08 521.53,92.28 521.2,91.5 C520.87,90.72 520.2,89.67 520,89.3" stroke="#8672A8" class="cv"/>
<path d="M556.5,98.8 C556.53,98.5 556.58,97.8 556.7,97 C556.82,96.2 556.98,94.92 557.2,94 C557.42,93.08 557.67,92.28 558,91.5 C558.33,90.72 559,89.67 559.2,89.3" stroke="#8672A8" class="cv"/>
<line x1="522.6" y1="98.8" x2="556.6" y2="98.8" stroke="#8DBAC6" stroke-width="0.95" fill="none"/>
<line x1="634.5" y1="3" x2="634.5" y2="98.8" class="ax"/>
<line x1="634.5" y1="98.8" x2="749.5" y2="98.8" class="ax"/>
<path d="M632.3,98.8h2.2M633.1,95.36h1.4M633.1,91.92h1.4M633.1,88.48h1.4M633.1,85.04h1.4M632.3,81.6h2.2M633.1,78.16h1.4M633.1,74.72h1.4M633.1,71.28h1.4M633.1,67.84h1.4M632.3,64.4h2.2M633.1,60.96h1.4M633.1,57.52h1.4M633.1,54.08h1.4M633.1,50.64h1.4M632.3,47.2h2.2M633.1,43.76h1.4M633.1,40.32h1.4M633.1,36.88h1.4M633.1,33.44h1.4M632.3,30h2.2M633.1,26.56h1.4M633.1,23.12h1.4M633.1,19.68h1.4M633.1,16.24h1.4M632.3,12.8h2.2" class="tk"/>
<text x="629.7" y="100.63" class="tl" text-anchor="end">0</text>
<text x="629.7" y="83.43" class="tl" text-anchor="end">20</text>
<text x="629.7" y="66.23" class="tl" text-anchor="end">40</text>
<text x="629.7" y="49.03" class="tl" text-anchor="end">60</text>
<text x="629.7" y="31.83" class="tl" text-anchor="end">80</text>
<text x="629.7" y="14.63" class="tl" text-anchor="end">100</text>
<text x="634.5" y="108" class="tl" text-anchor="middle">-400</text>
<text x="663.2" y="108" class="tl" text-anchor="middle">-200</text>
<text x="691.9" y="108" class="tl" text-anchor="middle">0</text>
<text x="720.6" y="108" class="tl" text-anchor="middle">200</text>
<text x="749.3" y="108" class="tl" text-anchor="middle">400</text>
<text transform="translate(618.4,51.4) rotate(-90)" class="tt" text-anchor="middle" textLength="34.2" lengthAdjust="spacingAndGlyphs">Thickness (nm)</text>
<text x="692" y="116" class="tt2" text-anchor="middle" textLength="45.1" lengthAdjust="spacingAndGlyphs">Bottom radius (nm)</text>
<text transform="translate(640.55,24.66) scale(1.033,1)" font-size="24.09" class="let">e</text>
<line x1="724.7" y1="56.5" x2="733.3" y2="56.5" stroke="#EEC43E" class="cv lgl"/>
<text x="734.5" y="58.4" class="tl">400 nm</text>
<line x1="724.7" y1="65.2" x2="733.3" y2="65.2" stroke="#B86A78" class="cv lgl"/>
<text x="734.5" y="67.1" class="tl">340 nm</text>
<line x1="724.7" y1="73.8" x2="733.3" y2="73.8" stroke="#A2BC72" class="cv lgl"/>
<text x="734.5" y="75.7" class="tl">280 nm</text>
<line x1="724.7" y1="82.7" x2="733.3" y2="82.7" stroke="#8672A8" class="cv lgl"/>
<text x="734.5" y="84.6" class="tl">180 nm</text>
<line x1="724.7" y1="91.8" x2="733.3" y2="91.8" stroke="#6CB4CA" class="cv lgl"/>
<text x="734.5" y="93.7" class="tl">140 nm</text>
<path d="M688.5,98.7 C688.45,97.92 688.33,95.78 688.2,94 C688.07,92.22 687.85,90.33 687.7,88 C687.55,85.67 687.44,83 687.3,80 C687.16,77 687,73.33 686.85,70 C686.7,66.67 686.57,63.33 686.4,60 C686.23,56.67 686.05,53 685.8,50 C685.55,47 685.22,44.42 684.9,42 C684.58,39.58 684.28,37.58 683.9,35.5 C683.52,33.42 683.1,31.38 682.6,29.5 C682.1,27.62 681.57,25.63 680.9,24.2 C680.23,22.77 679.48,21.72 678.6,20.9 C677.72,20.08 676.6,19.52 675.6,19.3 C674.6,19.08 673.63,19.3 672.6,19.6 C671.57,19.9 670.53,20.45 669.4,21.1 C668.27,21.75 667.07,22.57 665.8,23.5 C664.53,24.43 663.13,25.45 661.8,26.7 C660.47,27.95 658.98,29.52 657.8,31 C656.62,32.48 655.22,34.83 654.7,35.6" stroke="#EEC43E" class="cv"/>
<path d="M695.1,98.7 C695.15,97.92 695.27,95.78 695.4,94 C695.53,92.22 695.75,90.33 695.9,88 C696.05,85.67 696.16,83 696.3,80 C696.44,77 696.6,73.33 696.75,70 C696.9,66.67 697.02,63.33 697.2,60 C697.37,56.67 697.55,53 697.8,50 C698.05,47 698.38,44.42 698.7,42 C699.02,39.58 699.32,37.58 699.7,35.5 C700.08,33.42 700.5,31.38 701,29.5 C701.5,27.62 702.03,25.63 702.7,24.2 C703.37,22.77 704.12,21.72 705,20.9 C705.88,20.08 707,19.52 708,19.3 C709,19.08 709.97,19.3 711,19.6 C712.03,19.9 713.07,20.45 714.2,21.1 C715.33,21.75 716.53,22.57 717.8,23.5 C719.07,24.43 720.47,25.45 721.8,26.7 C723.13,27.95 724.62,29.52 725.8,31 C726.98,32.48 728.38,34.83 728.9,35.6" stroke="#EEC43E" class="cv"/>
<path d="M683.9,98.7 C683.85,97.58 683.77,94.78 683.6,92 C683.43,89.22 683.15,85.33 682.9,82 C682.65,78.67 682.35,75.33 682.1,72 C681.85,68.67 681.65,65 681.4,62 C681.15,59 680.95,56.58 680.6,54 C680.25,51.42 679.82,48.75 679.3,46.5 C678.78,44.25 678.25,42.08 677.5,40.5 C676.75,38.92 675.75,37.78 674.8,37 C673.85,36.22 672.88,35.95 671.8,35.8 C670.72,35.65 669.55,35.83 668.3,36.1 C667.05,36.37 665.47,36.88 664.3,37.4 C663.13,37.92 662.22,38.6 661.3,39.2 C660.38,39.8 659.22,40.7 658.8,41" stroke="#B86A78" class="cv"/>
<path d="M699.7,98.7 C699.75,97.58 699.83,94.78 700,92 C700.17,89.22 700.45,85.33 700.7,82 C700.95,78.67 701.25,75.33 701.5,72 C701.75,68.67 701.95,65 702.2,62 C702.45,59 702.65,56.58 703,54 C703.35,51.42 703.78,48.75 704.3,46.5 C704.82,44.25 705.35,42.08 706.1,40.5 C706.85,38.92 707.85,37.78 708.8,37 C709.75,36.22 710.72,35.95 711.8,35.8 C712.88,35.65 714.05,35.83 715.3,36.1 C716.55,36.37 718.13,36.88 719.3,37.4 C720.47,37.92 721.38,38.6 722.3,39.2 C723.22,39.8 724.38,40.7 724.8,41" stroke="#B86A78" class="cv"/>
<path d="M679.6,98.7 C679.55,97.58 679.47,94.45 679.3,92 C679.13,89.55 678.82,86.83 678.6,84 C678.38,81.17 678.23,77.83 678,75 C677.77,72.17 677.5,69.17 677.2,67 C676.9,64.83 676.6,63.42 676.2,62 C675.8,60.58 675.33,59.67 674.8,58.5 C674.27,57.33 673.63,56 673,55 C672.37,54 671.77,53.23 671,52.5 C670.23,51.77 669.43,51 668.4,50.6 C667.37,50.2 665.4,50.18 664.8,50.1" stroke="#A2BC72" class="cv"/>
<path d="M704,98.7 C704.05,97.58 704.13,94.45 704.3,92 C704.47,89.55 704.78,86.83 705,84 C705.22,81.17 705.37,77.83 705.6,75 C705.83,72.17 706.1,69.17 706.4,67 C706.7,64.83 707,63.42 707.4,62 C707.8,60.58 708.27,59.67 708.8,58.5 C709.33,57.33 709.97,56 710.6,55 C711.23,54 711.83,53.23 712.6,52.5 C713.37,51.77 714.17,51 715.2,50.6 C716.23,50.2 718.2,50.18 718.8,50.1" stroke="#A2BC72" class="cv"/>
<line x1="24" y1="124.5" x2="24" y2="220.3" class="ax"/>
<line x1="24" y1="220.3" x2="138.5" y2="220.3" class="ax"/>
<path d="M21.8,220.3h2.2M22.6,217.34h1.4M22.6,214.39h1.4M22.6,211.43h1.4M22.6,208.47h1.4M21.8,205.52h2.2M22.6,202.56h1.4M22.6,199.6h1.4M22.6,196.65h1.4M22.6,193.69h1.4M21.8,190.73h2.2M22.6,187.78h1.4M22.6,184.82h1.4M22.6,181.86h1.4M22.6,178.91h1.4M21.8,175.95h2.2M22.6,172.99h1.4M22.6,170.04h1.4M22.6,167.08h1.4M22.6,164.12h1.4M21.8,161.17h2.2M22.6,158.21h1.4M22.6,155.25h1.4M22.6,152.3h1.4M22.6,149.34h1.4M21.8,146.38h2.2M22.6,143.43h1.4M22.6,140.47h1.4M22.6,137.51h1.4M22.6,134.56h1.4M21.8,131.6h2.2" class="tk"/>
<text x="19.2" y="222.13" class="tl" text-anchor="end">0</text>
<text x="19.2" y="207.35" class="tl" text-anchor="end">50</text>
<text x="19.2" y="192.56" class="tl" text-anchor="end">100</text>
<text x="19.2" y="177.78" class="tl" text-anchor="end">150</text>
<text x="19.2" y="163" class="tl" text-anchor="end">200</text>
<text x="19.2" y="148.21" class="tl" text-anchor="end">250</text>
<text x="19.2" y="133.43" class="tl" text-anchor="end">300</text>
<text x="24.2" y="229.7" class="tl" text-anchor="middle">-150</text>
<text x="43.2" y="229.7" class="tl" text-anchor="middle">-100</text>
<text x="62.2" y="229.7" class="tl" text-anchor="middle">-50</text>
<text x="81.2" y="229.7" class="tl" text-anchor="middle">0</text>
<text x="100.2" y="229.7" class="tl" text-anchor="middle">50</text>
<text x="119.2" y="229.7" class="tl" text-anchor="middle">100</text>
<text x="138.2" y="229.7" class="tl" text-anchor="middle">150</text>
<text transform="translate(7.9,171) rotate(-90)" class="tt" text-anchor="middle" textLength="34.2" lengthAdjust="spacingAndGlyphs">Thickness (nm)</text>
<text x="81.25" y="237.9" class="tt2" text-anchor="middle" textLength="45.1" lengthAdjust="spacingAndGlyphs">Bottom radius (nm)</text>
<g fill="none" stroke="#000" stroke-width="1.85"><path d="M34.4,141.8 L34.4,126.6 C34.4,123.8 35.7,122.9 37.5,122.9 C38.3,122.9 39,123 39.6,123.3"/><path d="M31.3,129.6 L38.7,129.6"/></g>
<line x1="108.4" y1="138.5" x2="117.5" y2="138.5" stroke="#EEC43E" class="cv lgl"/>
<text x="118.3" y="140.4" class="tl">160 nm</text>
<line x1="108.4" y1="147.9" x2="117.5" y2="147.9" stroke="#B86A78" class="cv lgl"/>
<text x="118.3" y="149.8" class="tl">120 nm</text>
<line x1="108.4" y1="157.5" x2="117.5" y2="157.5" stroke="#A2BC72" class="cv lgl"/>
<text x="118.3" y="159.4" class="tl">100 nm</text>
<line x1="108.4" y1="166.9" x2="117.5" y2="166.9" stroke="#8672A8" class="cv lgl"/>
<text x="118.3" y="168.8" class="tl">80 nm</text>
<line x1="108.4" y1="176.3" x2="117.5" y2="176.3" stroke="#6CB4CA" class="cv lgl"/>
<text x="118.3" y="178.2" class="tl">60 nm</text>
<path d="M36.3,220.3 C37.13,220.3 39.97,220.37 41.3,220.3 C42.63,220.23 43.47,220.18 44.3,219.9 C45.13,219.62 45.63,219.33 46.3,218.6 C46.97,217.87 47.63,216.68 48.3,215.5 C48.97,214.32 49.63,213.08 50.3,211.5 C50.97,209.92 51.68,207.92 52.3,206 C52.92,204.08 53.47,202.17 54,200 C54.53,197.83 55,195.33 55.5,193 C56,190.67 56.45,188.5 57,186 C57.55,183.5 58.17,180.5 58.8,178 C59.43,175.5 60.1,173.33 60.8,171 C61.5,168.67 62.3,166.18 63,164 C63.7,161.82 64.33,159.98 65,157.9 C65.67,155.82 66.28,153.57 67,151.5 C67.72,149.43 68.62,147.58 69.3,145.5 C69.98,143.42 70.53,140.88 71.1,139 C71.67,137.12 72.27,135.3 72.7,134.2 C73.13,133.1 73.32,132.8 73.7,132.4 C74.08,132 73.73,131.9 75,131.8 C76.27,131.7 79.2,131.8 81.3,131.8 C83.4,131.8 86.33,131.7 87.6,131.8 C88.87,131.9 88.52,132 88.9,132.4 C89.28,132.8 89.47,133.1 89.9,134.2 C90.33,135.3 90.93,137.12 91.5,139 C92.07,140.88 92.62,143.42 93.3,145.5 C93.98,147.58 94.88,149.43 95.6,151.5 C96.32,153.57 96.93,155.82 97.6,157.9 C98.27,159.98 98.9,161.82 99.6,164 C100.3,166.18 101.1,168.67 101.8,171 C102.5,173.33 103.17,175.5 103.8,178 C104.43,180.5 105.05,183.5 105.6,186 C106.15,188.5 106.6,190.67 107.1,193 C107.6,195.33 108.07,197.83 108.6,200 C109.13,202.17 109.68,204.08 110.3,206 C110.92,207.92 111.63,209.92 112.3,211.5 C112.97,213.08 113.63,214.32 114.3,215.5 C114.97,216.68 115.63,217.87 116.3,218.6 C116.97,219.33 117.47,219.62 118.3,219.9 C119.13,220.18 119.97,220.23 121.3,220.3 C122.63,220.37 125.47,220.3 126.3,220.3" stroke="#EEC43E" class="cv"/>
<path d="M44.3,220.3 C45.13,220.3 48.05,220.38 49.3,220.3 C50.55,220.22 51,220.27 51.8,219.8 C52.6,219.33 53.35,218.63 54.1,217.5 C54.85,216.37 55.57,214.75 56.3,213 C57.03,211.25 57.8,209.17 58.5,207 C59.2,204.83 59.87,202.33 60.5,200 C61.13,197.67 61.72,195.33 62.3,193 C62.88,190.67 63.42,188.5 64,186 C64.58,183.5 65.17,180.67 65.8,178 C66.43,175.33 67.13,172.5 67.8,170 C68.47,167.5 69.13,165.25 69.8,163 C70.47,160.75 71.07,158.73 71.8,156.5 C72.53,154.27 73.45,151.68 74.2,149.6 C74.95,147.52 75.62,145.47 76.3,144 C76.98,142.53 77.72,141.52 78.3,140.8 C78.88,140.08 79.3,139.93 79.8,139.7 C80.3,139.47 80.8,139.4 81.3,139.4 C81.8,139.4 82.3,139.47 82.8,139.7 C83.3,139.93 83.72,140.08 84.3,140.8 C84.88,141.52 85.62,142.53 86.3,144 C86.98,145.47 87.65,147.52 88.4,149.6 C89.15,151.68 90.07,154.27 90.8,156.5 C91.53,158.73 92.13,160.75 92.8,163 C93.47,165.25 94.13,167.5 94.8,170 C95.47,172.5 96.17,175.33 96.8,178 C97.43,180.67 98.02,183.5 98.6,186 C99.18,188.5 99.72,190.67 100.3,193 C100.88,195.33 101.47,197.67 102.1,200 C102.73,202.33 103.4,204.83 104.1,207 C104.8,209.17 105.57,211.25 106.3,213 C107.03,214.75 107.75,216.37 108.5,217.5 C109.25,218.63 110,219.33 110.8,219.8 C111.6,220.27 112.05,220.22 113.3,220.3 C114.55,220.38 117.47,220.3 118.3,220.3" stroke="#B86A78" class="cv"/>
<path d="M47.3,220.3 C48.13,220.3 51.05,220.35 52.3,220.3 C53.55,220.25 54,220.27 54.8,220 C55.6,219.73 56.38,219.45 57.1,218.7 C57.82,217.95 58.43,216.78 59.1,215.5 C59.77,214.22 60.45,212.67 61.1,211 C61.75,209.33 62.4,207.33 63,205.5 C63.6,203.67 64.15,201.92 64.7,200 C65.25,198.08 65.78,196 66.3,194 C66.82,192 67.3,190 67.8,188 C68.3,186 68.8,184 69.3,182 C69.8,180 70.25,178 70.8,176 C71.35,174 72.02,171.75 72.6,170 C73.18,168.25 73.68,166.92 74.3,165.5 C74.92,164.08 75.55,162.63 76.3,161.5 C77.05,160.37 77.97,159.3 78.8,158.7 C79.63,158.1 80.47,157.9 81.3,157.9 C82.13,157.9 82.97,158.1 83.8,158.7 C84.63,159.3 85.55,160.37 86.3,161.5 C87.05,162.63 87.68,164.08 88.3,165.5 C88.92,166.92 89.42,168.25 90,170 C90.58,171.75 91.25,174 91.8,176 C92.35,178 92.8,180 93.3,182 C93.8,184 94.3,186 94.8,188 C95.3,190 95.78,192 96.3,194 C96.82,196 97.35,198.08 97.9,200 C98.45,201.92 99,203.67 99.6,205.5 C100.2,207.33 100.85,209.33 101.5,211 C102.15,212.67 102.83,214.22 103.5,215.5 C104.17,216.78 104.78,217.95 105.5,218.7 C106.22,219.45 107,219.73 107.8,220 C108.6,220.27 109.05,220.25 110.3,220.3 C111.55,220.35 114.47,220.3 115.3,220.3" stroke="#A2BC72" class="cv"/>
<path d="M53.3,220.3 C54.13,220.3 57.05,220.33 58.3,220.3 C59.55,220.27 60.05,220.35 60.8,220.1 C61.55,219.85 62.18,219.57 62.8,218.8 C63.42,218.03 63.92,216.8 64.5,215.5 C65.08,214.2 65.72,212.58 66.3,211 C66.88,209.42 67.45,207.7 68,206 C68.55,204.3 69.05,202.47 69.6,200.8 C70.15,199.13 70.77,197.72 71.3,196 C71.83,194.28 72.3,192.33 72.8,190.5 C73.3,188.67 73.75,186.63 74.3,185 C74.85,183.37 75.35,181.83 76.1,180.7 C76.85,179.57 77.93,178.73 78.8,178.2 C79.67,177.67 80.47,177.5 81.3,177.5 C82.13,177.5 82.93,177.67 83.8,178.2 C84.67,178.73 85.75,179.57 86.5,180.7 C87.25,181.83 87.75,183.37 88.3,185 C88.85,186.63 89.3,188.67 89.8,190.5 C90.3,192.33 90.77,194.28 91.3,196 C91.83,197.72 92.45,199.13 93,200.8 C93.55,202.47 94.05,204.3 94.6,206 C95.15,207.7 95.72,209.42 96.3,211 C96.88,212.58 97.52,214.2 98.1,215.5 C98.68,216.8 99.18,218.03 99.8,218.8 C100.42,219.57 101.05,219.85 101.8,220.1 C102.55,220.35 103.05,220.27 104.3,220.3 C105.55,220.33 108.47,220.3 109.3,220.3" stroke="#8672A8" class="cv"/>
<path d="M57.3,220.3 C58.13,220.3 61.13,220.32 62.3,220.3 C63.47,220.28 63.63,220.35 64.3,220.2 C64.97,220.05 65.68,219.93 66.3,219.4 C66.92,218.87 67.45,217.98 68,217 C68.55,216.02 69.05,214.67 69.6,213.5 C70.15,212.33 70.75,211.25 71.3,210 C71.85,208.75 72.37,207.33 72.9,206 C73.43,204.67 73.97,203.18 74.5,202 C75.03,200.82 75.38,199.83 76.1,198.9 C76.82,197.97 77.93,196.93 78.8,196.4 C79.67,195.87 80.47,195.7 81.3,195.7 C82.13,195.7 82.93,195.87 83.8,196.4 C84.67,196.93 85.78,197.97 86.5,198.9 C87.22,199.83 87.57,200.82 88.1,202 C88.63,203.18 89.17,204.67 89.7,206 C90.23,207.33 90.75,208.75 91.3,210 C91.85,211.25 92.45,212.33 93,213.5 C93.55,214.67 94.05,216.02 94.6,217 C95.15,217.98 95.68,218.87 96.3,219.4 C96.92,219.93 97.63,220.05 98.3,220.2 C98.97,220.35 99.13,220.28 100.3,220.3 C101.47,220.32 104.47,220.3 105.3,220.3" stroke="#6CB4CA" class="cv"/>
<line x1="175.9" y1="124.5" x2="175.9" y2="220.2" class="ax"/>
<line x1="175.9" y1="220.2" x2="290.5" y2="220.2" class="ax"/>
<path d="M173.7,220.2h2.2M174.5,217.27h1.4M174.5,214.34h1.4M174.5,211.41h1.4M174.5,208.48h1.4M173.7,205.55h2.2M174.5,202.62h1.4M174.5,199.69h1.4M174.5,196.76h1.4M174.5,193.83h1.4M173.7,190.9h2.2M174.5,187.97h1.4M174.5,185.04h1.4M174.5,182.11h1.4M174.5,179.18h1.4M173.7,176.25h2.2M174.5,173.32h1.4M174.5,170.39h1.4M174.5,167.46h1.4M174.5,164.53h1.4M173.7,161.6h2.2M174.5,158.67h1.4M174.5,155.74h1.4M174.5,152.81h1.4M174.5,149.88h1.4M173.7,146.95h2.2M174.5,144.02h1.4M174.5,141.09h1.4M174.5,138.16h1.4M174.5,135.23h1.4M173.7,132.3h2.2" class="tk"/>
<text x="171.1" y="222.03" class="tl" text-anchor="end">0</text>
<text x="171.1" y="207.38" class="tl" text-anchor="end">50</text>
<text x="171.1" y="192.73" class="tl" text-anchor="end">100</text>
<text x="171.1" y="178.08" class="tl" text-anchor="end">150</text>
<text x="171.1" y="163.43" class="tl" text-anchor="end">200</text>
<text x="171.1" y="148.78" class="tl" text-anchor="end">250</text>
<text x="171.1" y="134.13" class="tl" text-anchor="end">300</text>
<text x="176.44" y="229.7" class="tl" text-anchor="middle">-350</text>
<text x="209.1" y="229.7" class="tl" text-anchor="middle">-150</text>
<text x="241.76" y="229.7" class="tl" text-anchor="middle">50</text>
<text x="274.43" y="229.7" class="tl" text-anchor="middle">250</text>
<text transform="translate(159.8,171) rotate(-90)" class="tt" text-anchor="middle" textLength="34.2" lengthAdjust="spacingAndGlyphs">Thickness (nm)</text>
<text x="233.2" y="237.9" class="tt2" text-anchor="middle" textLength="45.1" lengthAdjust="spacingAndGlyphs">Bottom radius (nm)</text>
<g fill="none" stroke="#000" stroke-width="1.8"><ellipse cx="187.9" cy="132.6" rx="3.4" ry="3.5"/><path d="M190.6,130.2 C191.5,129.6 192.6,129.4 194,129.4"/><path d="M185.6,135.3 C184.3,136.3 184.6,138 186.3,138.4 L190,138.6 C193.2,138.8 193.9,140.3 193.7,141.6 C193.4,143.6 191,144.4 188.6,144.4 C186,144.4 184,143.6 184,141.9 C184,140.7 185,139.8 186.2,139.2"/></g>
<line x1="260.1" y1="138.5" x2="269.5" y2="138.5" stroke="#EEC43E" class="cv lgl"/>
<text x="270.2" y="140.4" class="tl">300 nm</text>
<line x1="260.1" y1="148.1" x2="269.5" y2="148.1" stroke="#B86A78" class="cv lgl"/>
<text x="270.2" y="150" class="tl">220 nm</text>
<line x1="260.1" y1="157.8" x2="269.5" y2="157.8" stroke="#A2BC72" class="cv lgl"/>
<text x="270.2" y="159.7" class="tl">80 nm</text>
<line x1="260.1" y1="167.2" x2="269.5" y2="167.2" stroke="#8672A8" class="cv lgl"/>
<text x="270.2" y="169.1" class="tl">60 nm</text>
<line x1="260.1" y1="176.8" x2="269.5" y2="176.8" stroke="#6CB4CA" class="cv lgl"/>
<text x="270.2" y="178.7" class="tl">40 nm</text>
<path d="M193.15,208.8 C193.83,208.17 196.02,206.33 197.25,205 C198.48,203.67 199.47,202.22 200.55,200.8 C201.63,199.38 202.65,198.08 203.75,196.5 C204.85,194.92 206.08,193.13 207.15,191.3 C208.22,189.47 209.13,187.45 210.15,185.5 C211.17,183.55 212.42,181.27 213.25,179.6 C214.08,177.93 214.5,176.93 215.15,175.5 C215.8,174.07 216.48,172.57 217.15,171 C217.82,169.43 218.48,167.77 219.15,166.1 C219.82,164.43 220.52,162.72 221.15,161 C221.78,159.28 222.43,157.55 222.95,155.8 C223.47,154.05 223.87,152.22 224.25,150.5 C224.63,148.78 224.92,147.25 225.25,145.5 C225.58,143.75 225.98,141.67 226.25,140 C226.52,138.33 226.65,136.63 226.85,135.5 C227.05,134.37 227.18,133.68 227.45,133.2 C227.72,132.72 227.45,132.7 228.45,132.6 C229.45,132.5 231.78,132.6 233.45,132.6 C235.12,132.6 237.45,132.5 238.45,132.6 C239.45,132.7 239.18,132.72 239.45,133.2 C239.72,133.68 239.85,134.37 240.05,135.5 C240.25,136.63 240.38,138.33 240.65,140 C240.92,141.67 241.32,143.75 241.65,145.5 C241.98,147.25 242.27,148.78 242.65,150.5 C243.03,152.22 243.43,154.05 243.95,155.8 C244.47,157.55 245.12,159.28 245.75,161 C246.38,162.72 247.08,164.43 247.75,166.1 C248.42,167.77 249.08,169.43 249.75,171 C250.42,172.57 251.1,174.07 251.75,175.5 C252.4,176.93 252.82,177.93 253.65,179.6 C254.48,181.27 255.73,183.55 256.75,185.5 C257.77,187.45 258.68,189.47 259.75,191.3 C260.82,193.13 262.05,194.92 263.15,196.5 C264.25,198.08 265.27,199.38 266.35,200.8 C267.43,202.22 268.42,203.67 269.65,205 C270.88,206.33 273.07,208.17 273.75,208.8" stroke="#EEC43E" class="cv"/>
<path d="M202.2,208 C202.66,207.42 203.96,205.7 204.95,204.5 C205.94,203.3 207.07,202.05 208.15,200.8 C209.23,199.55 210.27,198.2 211.45,197 C212.63,195.8 213.75,194.93 215.25,193.6 C216.75,192.27 218.85,190.58 220.45,189 C222.05,187.42 223.6,185.77 224.85,184.1 C226.1,182.43 227.1,180.52 227.95,179 C228.8,177.48 229.4,176.33 229.95,175 C230.5,173.67 230.88,172.48 231.25,171 C231.62,169.52 231.92,167.77 232.15,166.1 C232.38,164.43 232.5,162.52 232.65,161 C232.8,159.48 232.92,157.87 233.05,157 C233.18,156.13 233.32,155.8 233.45,155.8 C233.58,155.8 233.72,156.13 233.85,157 C233.98,157.87 234.1,159.48 234.25,161 C234.4,162.52 234.52,164.43 234.75,166.1 C234.98,167.77 235.28,169.52 235.65,171 C236.02,172.48 236.4,173.67 236.95,175 C237.5,176.33 238.1,177.48 238.95,179 C239.8,180.52 240.8,182.43 242.05,184.1 C243.3,185.77 244.85,187.42 246.45,189 C248.05,190.58 250.15,192.27 251.65,193.6 C253.15,194.93 254.27,195.8 255.45,197 C256.63,198.2 257.67,199.55 258.75,200.8 C259.83,202.05 260.96,203.3 261.95,204.5 C262.94,205.7 264.24,207.42 264.7,208" stroke="#B86A78" class="cv"/>
<path d="M222.8,220.3 C222.77,220.17 222.79,220.22 222.65,219.5 C222.51,218.78 222.23,217.12 221.95,216 C221.67,214.88 221.37,213.77 220.95,212.8 C220.53,211.83 219.87,210.77 219.45,210.2 C219.03,209.63 218.87,209.52 218.45,209.4 C218.03,209.28 217.45,209.42 216.95,209.5 C216.45,209.58 215.7,209.83 215.45,209.9" stroke="#A2BC72" class="cv"/>
<path d="M244.1,220.3 C244.12,220.17 244.11,220.22 244.25,219.5 C244.39,218.78 244.67,217.12 244.95,216 C245.23,214.88 245.53,213.77 245.95,212.8 C246.37,211.83 247.03,210.77 247.45,210.2 C247.87,209.63 248.03,209.52 248.45,209.4 C248.87,209.28 249.45,209.42 249.95,209.5 C250.45,209.58 251.2,209.83 251.45,209.9" stroke="#A2BC72" class="cv"/>
<path d="M220.65,220.3 C220.62,220.08 220.57,219.58 220.45,219 C220.33,218.42 220.2,217.63 219.95,216.8 C219.7,215.97 219.33,214.73 218.95,214 C218.57,213.27 217.87,212.67 217.65,212.4" stroke="#8672A8" class="cv"/>
<path d="M246.25,220.3 C246.28,220.08 246.33,219.58 246.45,219 C246.57,218.42 246.7,217.63 246.95,216.8 C247.2,215.97 247.57,214.73 247.95,214 C248.33,213.27 249.03,212.67 249.25,212.4" stroke="#8672A8" class="cv"/>
<line x1="220.95" y1="220.3" x2="245.95" y2="220.3" stroke="#8DBAC6" stroke-width="0.95" fill="none"/>
<line x1="327.9" y1="124.5" x2="327.9" y2="220" class="ax"/>
<line x1="327.9" y1="220" x2="446" y2="220" class="ax"/>
<path d="M325.7,220h2.2M326.5,218.02h1.4M326.5,216.05h1.4M326.5,214.07h1.4M326.5,212.1h1.4M325.7,210.12h2.2M326.5,208.15h1.4M326.5,206.17h1.4M326.5,204.2h1.4M326.5,202.22h1.4M325.7,200.24h2.2M326.5,198.27h1.4M326.5,196.29h1.4M326.5,194.32h1.4M326.5,192.34h1.4M325.7,190.37h2.2M326.5,188.39h1.4M326.5,186.42h1.4M326.5,184.44h1.4M326.5,182.46h1.4M325.7,180.49h2.2M326.5,178.51h1.4M326.5,176.54h1.4M326.5,174.56h1.4M326.5,172.59h1.4M325.7,170.61h2.2M326.5,168.64h1.4M326.5,166.66h1.4M326.5,164.68h1.4M326.5,162.71h1.4M325.7,160.73h2.2M326.5,158.76h1.4M326.5,156.78h1.4M326.5,154.81h1.4M326.5,152.83h1.4M325.7,150.86h2.2M326.5,148.88h1.4M326.5,146.9h1.4M326.5,144.93h1.4M326.5,142.95h1.4M325.7,140.98h2.2M326.5,139h1.4M326.5,137.03h1.4M326.5,135.05h1.4M326.5,133.08h1.4M325.7,131.1h2.2" class="tk"/>
<text x="323.1" y="221.83" class="tl" text-anchor="end">0</text>
<text x="323.1" y="211.95" class="tl" text-anchor="end">10</text>
<text x="323.1" y="202.07" class="tl" text-anchor="end">20</text>
<text x="323.1" y="192.2" class="tl" text-anchor="end">30</text>
<text x="323.1" y="182.32" class="tl" text-anchor="end">40</text>
<text x="323.1" y="172.44" class="tl" text-anchor="end">50</text>
<text x="323.1" y="162.56" class="tl" text-anchor="end">60</text>
<text x="323.1" y="152.69" class="tl" text-anchor="end">70</text>
<text x="323.1" y="142.81" class="tl" text-anchor="end">80</text>
<text x="323.1" y="132.93" class="tl" text-anchor="end">90</text>
<text x="328.24" y="229.7" class="tl" text-anchor="middle">-400</text>
<text x="357.62" y="229.7" class="tl" text-anchor="middle">-200</text>
<text x="387" y="229.7" class="tl" text-anchor="middle">0</text>
<text x="416.38" y="229.7" class="tl" text-anchor="middle">200</text>
<text x="445.76" y="229.7" class="tl" text-anchor="middle">400</text>
<text transform="translate(311.8,171) rotate(-90)" class="tt" text-anchor="middle" textLength="34.2" lengthAdjust="spacingAndGlyphs">Thickness (nm)</text>
<text x="386.95" y="237.9" class="tt2" text-anchor="middle" textLength="45.1" lengthAdjust="spacingAndGlyphs">Bottom radius (nm)</text>
<text transform="translate(335.35,141.6) scale(0.899,1)" font-size="26.62" class="let">h</text>
<line x1="372.8" y1="136" x2="382.2" y2="136" stroke="#EEC43E" class="cv lgl"/>
<text x="383" y="137.9" class="tl">340 nm</text>
<line x1="372.8" y1="144.7" x2="382.2" y2="144.7" stroke="#B86A78" class="cv lgl"/>
<text x="383" y="146.6" class="tl">260 nm</text>
<line x1="372.8" y1="153.3" x2="382.2" y2="153.3" stroke="#A2BC72" class="cv lgl"/>
<text x="383" y="155.2" class="tl">200 nm</text>
<line x1="372.8" y1="162.5" x2="382.2" y2="162.5" stroke="#8672A8" class="cv lgl"/>
<text x="383" y="164.4" class="tl">160 nm</text>
<line x1="372.8" y1="171.4" x2="382.2" y2="171.4" stroke="#6CB4CA" class="cv lgl"/>
<text x="383" y="173.3" class="tl">120 nm</text>
<path d="M370.45,220 C370.42,218.67 370.35,214.67 370.25,212 C370.15,209.33 370.03,206.67 369.85,204 C369.67,201.33 369.42,198.67 369.15,196 C368.88,193.33 368.62,190.67 368.25,188 C367.88,185.33 367.45,182.5 366.95,180 C366.45,177.5 365.9,175.17 365.25,173 C364.6,170.83 363.87,168.75 363.05,167 C362.23,165.25 361.38,163.75 360.35,162.5 C359.32,161.25 358.1,160.25 356.85,159.5 C355.6,158.75 354.18,158.2 352.85,158 C351.52,157.8 350.18,158.05 348.85,158.3 C347.52,158.55 346.15,159.02 344.85,159.5 C343.55,159.98 341.68,160.92 341.05,161.2" stroke="#EEC43E" class="cv"/>
<path d="M403.25,220 C403.28,218.67 403.35,214.67 403.45,212 C403.55,209.33 403.67,206.67 403.85,204 C404.03,201.33 404.28,198.67 404.55,196 C404.82,193.33 405.08,190.67 405.45,188 C405.82,185.33 406.25,182.5 406.75,180 C407.25,177.5 407.8,175.17 408.45,173 C409.1,170.83 409.83,168.75 410.65,167 C411.47,165.25 412.32,163.75 413.35,162.5 C414.38,161.25 415.6,160.25 416.85,159.5 C418.1,158.75 419.52,158.2 420.85,158 C422.18,157.8 423.52,158.05 424.85,158.3 C426.18,158.55 427.55,159.02 428.85,159.5 C430.15,159.98 432.02,160.92 432.65,161.2" stroke="#EEC43E" class="cv"/>
<path d="M367.15,220 C367.12,218.67 367.05,214.67 366.95,212 C366.85,209.33 366.72,206.67 366.55,204 C366.38,201.33 366.18,198.5 365.95,196 C365.72,193.5 365.47,191.17 365.15,189 C364.83,186.83 364.53,184.92 364.05,183 C363.57,181.08 363.12,179.5 362.25,177.5 C361.38,175.5 360.13,172.83 358.85,171 C357.57,169.17 355.95,167.57 354.55,166.5 C353.15,165.43 351.57,164.92 350.45,164.6 C349.33,164.28 348.67,164.45 347.85,164.6 C347.03,164.75 345.93,165.35 345.55,165.5" stroke="#B86A78" class="cv"/>
<path d="M406.55,220 C406.58,218.67 406.65,214.67 406.75,212 C406.85,209.33 406.98,206.67 407.15,204 C407.32,201.33 407.52,198.5 407.75,196 C407.98,193.5 408.23,191.17 408.55,189 C408.87,186.83 409.17,184.92 409.65,183 C410.13,181.08 410.58,179.5 411.45,177.5 C412.32,175.5 413.57,172.83 414.85,171 C416.13,169.17 417.75,167.57 419.15,166.5 C420.55,165.43 422.13,164.92 423.25,164.6 C424.37,164.28 425.03,164.45 425.85,164.6 C426.67,164.75 427.77,165.35 428.15,165.5" stroke="#B86A78" class="cv"/>
<path d="M360.95,220 C360.9,218.5 360.78,213.67 360.65,211 C360.52,208.33 360.37,206.33 360.15,204 C359.93,201.67 359.7,199.17 359.35,197 C359,194.83 358.55,192.67 358.05,191 C357.55,189.33 356.93,188.17 356.35,187 C355.77,185.83 355.22,184.87 354.55,184 C353.88,183.13 352.72,182.17 352.35,181.8" stroke="#A2BC72" class="cv"/>
<path d="M412.75,220 C412.8,218.5 412.92,213.67 413.05,211 C413.18,208.33 413.33,206.33 413.55,204 C413.77,201.67 414,199.17 414.35,197 C414.7,194.83 415.15,192.67 415.65,191 C416.15,189.33 416.77,188.17 417.35,187 C417.93,185.83 418.48,184.87 419.15,184 C419.82,183.13 420.98,182.17 421.35,181.8" stroke="#A2BC72" class="cv"/>
<path d="M359.65,220 C359.6,218.5 359.48,213.5 359.35,211 C359.22,208.5 359.1,207 358.85,205 C358.6,203 358.27,200.83 357.85,199 C357.43,197.17 356.92,195.55 356.35,194 C355.78,192.45 354.77,190.42 354.45,189.7" stroke="#8672A8" class="cv"/>
<path d="M414.05,220 C414.1,218.5 414.22,213.5 414.35,211 C414.48,208.5 414.6,207 414.85,205 C415.1,203 415.43,200.83 415.85,199 C416.27,197.17 416.78,195.55 417.35,194 C417.92,192.45 418.93,190.42 419.25,189.7" stroke="#8672A8" class="cv"/>
<path d="M358.25,220 C358.22,218.83 358.17,215.17 358.05,213 C357.93,210.83 357.75,208.83 357.55,207 C357.35,205.17 356.97,202.83 356.85,202" stroke="#6CB4CA" class="cv"/>
<path d="M415.45,220 C415.48,218.83 415.53,215.17 415.65,213 C415.77,210.83 415.95,208.83 416.15,207 C416.35,205.17 416.73,202.83 416.85,202" stroke="#6CB4CA" class="cv"/>
<line x1="358.25" y1="220" x2="415.45" y2="220" stroke="#8DBAC6" stroke-width="0.95" fill="none"/>
<line x1="482.1" y1="124.5" x2="482.1" y2="220" class="ax"/>
<line x1="482.1" y1="220" x2="599.6" y2="220" class="ax"/>
<path d="M479.9,220h2.2M480.7,217.49h1.4M480.7,214.97h1.4M480.7,212.46h1.4M480.7,209.94h1.4M479.9,207.43h2.2M480.7,204.91h1.4M480.7,202.4h1.4M480.7,199.89h1.4M480.7,197.37h1.4M479.9,194.86h2.2M480.7,192.34h1.4M480.7,189.83h1.4M480.7,187.31h1.4M480.7,184.8h1.4M479.9,182.29h2.2M480.7,179.77h1.4M480.7,177.26h1.4M480.7,174.74h1.4M480.7,172.23h1.4M479.9,169.71h2.2M480.7,167.2h1.4M480.7,164.69h1.4M480.7,162.17h1.4M480.7,159.66h1.4M479.9,157.14h2.2M480.7,154.63h1.4M480.7,152.11h1.4M480.7,149.6h1.4M480.7,147.09h1.4M479.9,144.57h2.2M480.7,142.06h1.4M480.7,139.54h1.4M480.7,137.03h1.4M480.7,134.51h1.4M479.9,132h2.2" class="tk"/>
<text x="477.3" y="221.83" class="tl" text-anchor="end">0</text>
<text x="477.3" y="209.26" class="tl" text-anchor="end">10</text>
<text x="477.3" y="196.69" class="tl" text-anchor="end">20</text>
<text x="477.3" y="184.12" class="tl" text-anchor="end">30</text>
<text x="477.3" y="171.54" class="tl" text-anchor="end">40</text>
<text x="477.3" y="158.97" class="tl" text-anchor="end">50</text>
<text x="477.3" y="146.4" class="tl" text-anchor="end">60</text>
<text x="477.3" y="133.83" class="tl" text-anchor="end">70</text>
<text x="481.84" y="229.7" class="tl" text-anchor="middle">-400</text>
<text x="511.22" y="229.7" class="tl" text-anchor="middle">-200</text>
<text x="540.6" y="229.7" class="tl" text-anchor="middle">0</text>
<text x="569.98" y="229.7" class="tl" text-anchor="middle">200</text>
<text x="599.36" y="229.7" class="tl" text-anchor="middle">400</text>
<text transform="translate(466,171) rotate(-90)" class="tt" text-anchor="middle" textLength="34.2" lengthAdjust="spacingAndGlyphs">Thickness (nm)</text>
<text x="540.85" y="237.9" class="tt2" text-anchor="middle" textLength="45.1" lengthAdjust="spacingAndGlyphs">Bottom radius (nm)</text>
<text transform="translate(488.62,141.6) scale(1.171,1)" font-size="25.24" class="let">i</text>
<line x1="527.8" y1="137.3" x2="537.2" y2="137.3" stroke="#EEC43E" class="cv lgl"/>
<text x="538" y="139.2" class="tl">400 nm</text>
<line x1="527.8" y1="146.7" x2="537.2" y2="146.7" stroke="#B86A78" class="cv lgl"/>
<text x="538" y="148.6" class="tl">360 nm</text>
<line x1="527.8" y1="156" x2="537.2" y2="156" stroke="#A2BC72" class="cv lgl"/>
<text x="538" y="157.9" class="tl">320 nm</text>
<line x1="527.8" y1="165.7" x2="537.2" y2="165.7" stroke="#8672A8" class="cv lgl"/>
<text x="538" y="167.6" class="tl">280 nm</text>
<line x1="527.8" y1="175.3" x2="537.2" y2="175.3" stroke="#6CB4CA" class="cv lgl"/>
<text x="538" y="177.2" class="tl">240 nm</text>
<path d="M516.7,220 C516.65,218.33 516.58,213.78 516.4,210 C516.22,206.22 515.92,200.63 515.6,197.3 C515.28,193.97 514.93,192.05 514.5,190 C514.07,187.95 513.48,187.1 513,185 C512.52,182.9 512.07,179.48 511.6,177.4 C511.13,175.32 510.68,173.95 510.2,172.5 C509.72,171.05 509.55,170.42 508.7,168.7 C507.85,166.98 506.42,164 505.1,162.2 C503.78,160.4 502.23,158.93 500.8,157.9 C499.37,156.87 497.22,156.32 496.5,156" stroke="#EEC43E" class="cv"/>
<path d="M566.7,220 C566.75,218.33 566.82,213.78 567,210 C567.18,206.22 567.48,200.63 567.8,197.3 C568.12,193.97 568.47,192.05 568.9,190 C569.33,187.95 569.92,187.1 570.4,185 C570.88,182.9 571.33,179.48 571.8,177.4 C572.27,175.32 572.72,173.95 573.2,172.5 C573.68,171.05 573.85,170.42 574.7,168.7 C575.55,166.98 576.98,164 578.3,162.2 C579.62,160.4 581.17,158.93 582.6,157.9 C584.03,156.87 586.18,156.32 586.9,156" stroke="#EEC43E" class="cv"/>
<path d="M514.2,220 C514.15,218.33 514.1,213.78 513.9,210 C513.7,206.22 513.37,200.47 513,197.3 C512.63,194.13 512.25,193.05 511.7,191 C511.15,188.95 510.2,186.78 509.7,185 C509.2,183.22 509.22,182.17 508.7,180.3 C508.18,178.43 507.43,175.85 506.6,173.8 C505.77,171.75 504.85,169.55 503.7,168 C502.55,166.45 500.37,165.08 499.7,164.5" stroke="#B86A78" class="cv"/>
<path d="M569.2,220 C569.25,218.33 569.3,213.78 569.5,210 C569.7,206.22 570.03,200.47 570.4,197.3 C570.77,194.13 571.15,193.05 571.7,191 C572.25,188.95 573.2,186.78 573.7,185 C574.2,183.22 574.18,182.17 574.7,180.3 C575.22,178.43 575.97,175.85 576.8,173.8 C577.63,171.75 578.55,169.55 579.7,168 C580.85,166.45 583.03,165.08 583.7,164.5" stroke="#B86A78" class="cv"/>
<path d="M511.2,220 C511.13,218.33 511.08,213.78 510.8,210 C510.52,206.22 509.98,200.63 509.5,197.3 C509.02,193.97 508.52,192.05 507.9,190 C507.28,187.95 506.33,186.42 505.8,185 C505.27,183.58 505.05,182.5 504.7,181.5 C504.35,180.5 503.87,179.42 503.7,179" stroke="#A2BC72" class="cv"/>
<path d="M572.2,220 C572.27,218.33 572.32,213.78 572.6,210 C572.88,206.22 573.42,200.63 573.9,197.3 C574.38,193.97 574.88,192.05 575.5,190 C576.12,187.95 577.07,186.42 577.6,185 C578.13,183.58 578.35,182.5 578.7,181.5 C579.05,180.5 579.53,179.42 579.7,179" stroke="#A2BC72" class="cv"/>
<line x1="513.7" y1="220" x2="569.7" y2="220" stroke="#8DBAC6" stroke-width="0.95" fill="none"/>
<line x1="634" y1="124.5" x2="634" y2="220.2" class="ax"/>
<line x1="634" y1="220.2" x2="752.5" y2="220.2" class="ax"/>
<path d="M631.8,220.2h2.2M632.6,216.78h1.4M632.6,213.37h1.4M632.6,209.95h1.4M632.6,206.54h1.4M631.8,203.12h2.2M632.6,199.7h1.4M632.6,196.29h1.4M632.6,192.87h1.4M632.6,189.46h1.4M631.8,186.04h2.2M632.6,182.62h1.4M632.6,179.21h1.4M632.6,175.79h1.4M632.6,172.38h1.4M631.8,168.96h2.2M632.6,165.54h1.4M632.6,162.13h1.4M632.6,158.71h1.4M632.6,155.3h1.4M631.8,151.88h2.2M632.6,148.46h1.4M632.6,145.05h1.4M632.6,141.63h1.4M632.6,138.22h1.4M631.8,134.8h2.2" class="tk"/>
<text x="629.2" y="222.03" class="tl" text-anchor="end">0</text>
<text x="629.2" y="204.95" class="tl" text-anchor="end">10</text>
<text x="629.2" y="187.87" class="tl" text-anchor="end">20</text>
<text x="629.2" y="170.79" class="tl" text-anchor="end">30</text>
<text x="629.2" y="153.71" class="tl" text-anchor="end">40</text>
<text x="629.2" y="136.63" class="tl" text-anchor="end">50</text>
<text x="635.4" y="229.7" class="tl" text-anchor="middle">-400</text>
<text x="664.6" y="229.7" class="tl" text-anchor="middle">-200</text>
<text x="693.8" y="229.7" class="tl" text-anchor="middle">0</text>
<text x="723" y="229.7" class="tl" text-anchor="middle">200</text>
<text x="752.2" y="229.7" class="tl" text-anchor="middle">400</text>
<text transform="translate(617.9,171) rotate(-90)" class="tt" text-anchor="middle" textLength="34.2" lengthAdjust="spacingAndGlyphs">Thickness (nm)</text>
<text x="693.25" y="237.9" class="tt2" text-anchor="middle" textLength="45.1" lengthAdjust="spacingAndGlyphs">Bottom radius (nm)</text>
<text transform="translate(642.38,140.99) scale(1.320,1)" font-size="24.54" class="let">j</text>
<line x1="686.7" y1="155.3" x2="695.8" y2="155.3" stroke="#EEC43E" class="cv lgl"/>
<text x="696.5" y="157.2" class="tl">400 nm</text>
<line x1="686.7" y1="164.9" x2="695.8" y2="164.9" stroke="#B86A78" class="cv lgl"/>
<text x="696.5" y="166.8" class="tl">380 nm</text>
<line x1="686.7" y1="174.3" x2="695.8" y2="174.3" stroke="#A2BC72" class="cv lgl"/>
<text x="696.5" y="176.2" class="tl">340 nm</text>
<line x1="686.7" y1="183.7" x2="695.8" y2="183.7" stroke="#8672A8" class="cv lgl"/>
<text x="696.5" y="185.6" class="tl">300 nm</text>
<line x1="686.7" y1="192.8" x2="695.8" y2="192.8" stroke="#6CB4CA" class="cv lgl"/>
<text x="696.5" y="194.7" class="tl">280 nm</text>
<path d="M660.2,220.2 C660.15,218.5 660.05,213.37 659.9,210 C659.75,206.63 659.6,203.33 659.3,200 C659,196.67 658.53,193.33 658.1,190 C657.67,186.67 657.27,183.33 656.7,180 C656.13,176.67 655.47,173 654.7,170 C653.93,167 652.98,164.33 652.1,162 C651.22,159.67 650.05,157.4 649.4,156 C648.75,154.6 648.4,154 648.2,153.6" stroke="#EEC43E" class="cv"/>
<path d="M727.6,220.2 C727.65,218.5 727.75,213.37 727.9,210 C728.05,206.63 728.2,203.33 728.5,200 C728.8,196.67 729.27,193.33 729.7,190 C730.13,186.67 730.53,183.33 731.1,180 C731.67,176.67 732.33,173 733.1,170 C733.87,167 734.82,164.33 735.7,162 C736.58,159.67 737.75,157.4 738.4,156 C739.05,154.6 739.4,154 739.6,153.6" stroke="#EEC43E" class="cv"/>
<path d="M658.9,220.2 C658.83,218.5 658.68,213.37 658.5,210 C658.32,206.63 658.1,203.33 657.8,200 C657.5,196.67 657.15,193.33 656.7,190 C656.25,186.67 655.73,183.33 655.1,180 C654.47,176.67 653.7,172.75 652.9,170 C652.1,167.25 650.85,164.73 650.3,163.5 C649.75,162.27 649.72,162.75 649.6,162.6" stroke="#8672A8" class="cv"/>
<path d="M728.9,220.2 C728.97,218.5 729.12,213.37 729.3,210 C729.48,206.63 729.7,203.33 730,200 C730.3,196.67 730.65,193.33 731.1,190 C731.55,186.67 732.07,183.33 732.7,180 C733.33,176.67 734.1,172.75 734.9,170 C735.7,167.25 736.95,164.73 737.5,163.5 C738.05,162.27 738.08,162.75 738.2,162.6" stroke="#8672A8" class="cv"/>
<path d="M659.2,220.2 C659.13,218.5 658.97,213.37 658.8,210 C658.63,206.63 658.48,203.33 658.2,200 C657.92,196.67 657.55,193.33 657.1,190 C656.65,186.67 656.13,183.33 655.5,180 C654.87,176.67 654.1,172.83 653.3,170 C652.5,167.17 651.25,164.3 650.7,163 C650.15,161.7 650.12,162.33 650,162.2" stroke="#B86A78" class="cv"/>
<path d="M728.6,220.2 C728.67,218.5 728.83,213.37 729,210 C729.17,206.63 729.32,203.33 729.6,200 C729.88,196.67 730.25,193.33 730.7,190 C731.15,186.67 731.67,183.33 732.3,180 C732.93,176.67 733.7,172.83 734.5,170 C735.3,167.17 736.55,164.3 737.1,163 C737.65,161.7 737.68,162.33 737.8,162.2" stroke="#B86A78" class="cv"/>
<path d="M655.4,220.2 C655.32,217.67 655.12,209.45 654.9,205 C654.68,200.55 654.23,195.42 654.1,193.5" stroke="#A2BC72" class="cv"/>
<path d="M732.4,220.2 C732.48,217.67 732.68,209.45 732.9,205 C733.12,200.55 733.57,195.42 733.7,193.5" stroke="#A2BC72" class="cv"/>
<line x1="659.9" y1="220.2" x2="727.9" y2="220.2" stroke="#8DBAC6" stroke-width="0.95" fill="none"/>
</svg>
</body></html>
